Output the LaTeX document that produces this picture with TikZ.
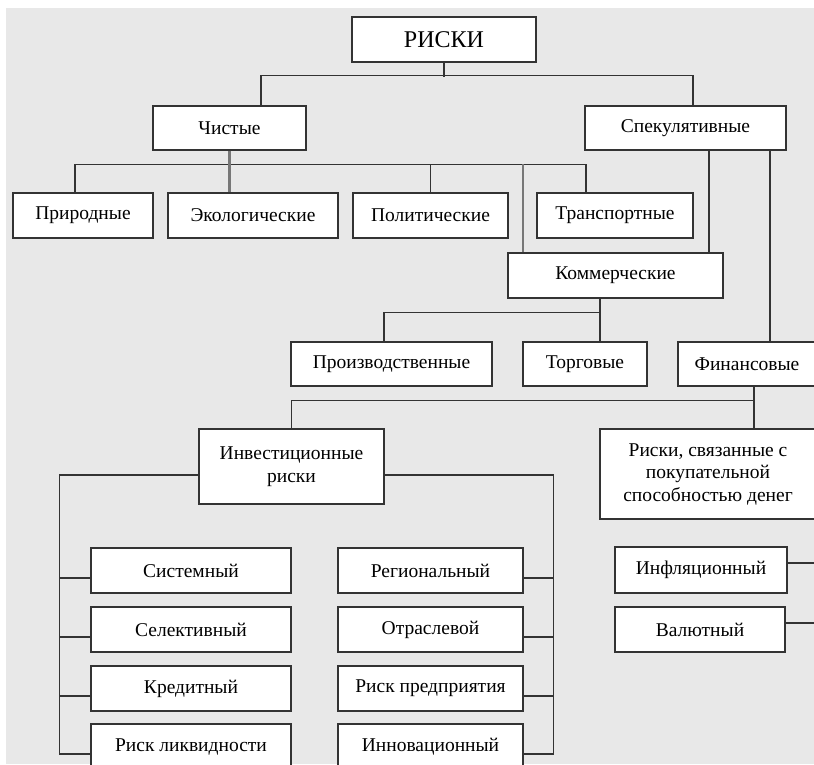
\documentclass[tikz,border=0pt]{standalone}
\usepackage{fontspec}
\setmainfont{Liberation Serif}
\usetikzlibrary{calc}
\definecolor{linec}{HTML}{333333}
\definecolor{gline}{HTML}{777777}
\definecolor{bgc}{HTML}{E8E8E8}
\begin{document}
\begin{tikzpicture}[x=1pt,y=-1pt,
  box/.style={draw=linec, line width=1.4pt, fill=white, rectangle, inner sep=0pt,
    align=center, font=\fontsize{19.5}{22.5}\selectfont, text=black},
  conn/.style={draw=linec, line width=1.4pt},
  gconn/.style={draw=gline, line width=2.2pt}]
\useasboundingbox (0,0) rectangle (814,764);
\clip (0,0) rectangle (814,764);
\fill[white] (0,0) rectangle (814,764);
\fill[bgc] (6,8) rectangle (814,764);

% nodes
\node[box, minimum width=184pt, minimum height=45pt, font=\fontsize{24}{28}\selectfont] (riski) at (444,39.5) {РИСКИ};
\node[box, minimum width=153pt, minimum height=44pt] (chist) at (229.5,128) {Чистые};
\node[box, minimum width=201pt, minimum height=44pt] (spek) at (685.5,128) {Спекулятивные};
\node[box, minimum width=140pt, minimum height=45pt] (prir) at (83,215.5) {Природные};
\node[box, minimum width=170pt, minimum height=45pt] (ekol) at (253,215.5) {Экологические};
\node[box, minimum width=155pt, minimum height=45pt] (polit) at (430.5,215.5) {Политические};
\node[box, minimum width=156pt, minimum height=45pt] (trans) at (615,215.5) {Транспортные};
\node[box, minimum width=215pt, minimum height=45pt] (komm) at (615.5,275.5) {Коммерческие};
\node[box, minimum width=201pt, minimum height=44pt] (proizv) at (391.5,364) {Производственные};
\node[box, minimum width=124pt, minimum height=44pt] (torg) at (585,364) {Торговые};
\node[box, minimum width=138pt, minimum height=44pt] (fin) at (747,364) {Финансовые};
\node[box, minimum width=185pt, minimum height=75pt] (invest) at (291.5,466.5) {Инвестиционные\\риски};
\node[box, minimum width=216pt, minimum height=90pt] (pokup) at (708,474) {Риски, связанные с\\покупательной\\способностью денег};
\node[box, minimum width=200pt, minimum height=45pt] (sys) at (191,570.5) {Системный};
\node[box, minimum width=200pt, minimum height=45pt] (sel) at (191,629.5) {Селективный};
\node[box, minimum width=200pt, minimum height=45pt] (kred) at (191,688.5) {Кредитный};
\node[box, minimum width=200pt, minimum height=45pt] (likv) at (191,746.5) {Риск ликвидности};
\node[box, minimum width=185pt, minimum height=45pt] (reg) at (430.5,570.5) {Региональный};
\node[box, minimum width=185pt, minimum height=45pt] (otr) at (430.5,629.5) {Отраслевой};
\node[box, minimum width=185pt, minimum height=45pt] (pred) at (430.5,688.5) {Риск предприятия};
\node[box, minimum width=185pt, minimum height=45pt] (innov) at (430.5,746.5) {Инновационный};
\node[box, minimum width=172pt, minimum height=46pt] (infl) at (701,570) {Инфляционный};
\node[box, minimum width=170pt, minimum height=45pt] (val) at (700,629.5) {Валютный};

% connectors
\draw[conn] (riski.south) -- ++(0,14);
\draw[conn] ([xshift=31.5pt]chist.north) -- ++(0,-30) -| ([xshift=7.5pt]spek.north);
\draw[conn] ([xshift=-8pt]prir.north) -- ++(0,-28) -| ([xshift=-29pt]trans.north);
\draw[conn] (polit.north) -- ++(0,-28);
\draw[gconn] (chist.south) -- ([xshift=-23.5pt]ekol.north);
\draw[gconn] ([xshift=-92.5pt]komm.north) -- ++(0,-88);
\draw[conn] ([xshift=23.5pt]spek.south) -- ([xshift=93.5pt]komm.north);
\draw[conn] ([xshift=84.5pt]spek.south) -- ([xshift=23pt]fin.north);
\draw[conn] ([xshift=-15.5pt]komm.south) -- ++(0,14) -| ([xshift=-7.5pt]proizv.north);
\draw[conn] ([xshift=-15.5pt]komm.south) -- ([xshift=15pt]torg.north);
\draw[conn] ([xshift=7pt]fin.south) -- ++(0,14) -| (invest.north);
\draw[conn] ([xshift=7pt]fin.south) -- ([xshift=46pt]pokup.north);
\draw[conn] ([yshift=-8.5pt]invest.west) -- ++(-139,0) |- ([yshift=-7.5pt]likv.west);
\draw[conn] ([yshift=-7.5pt]sys.west) -- ++(-31,0);
\draw[conn] ([yshift=-7.5pt]sel.west) -- ++(-31,0);
\draw[conn] ([yshift=-7.5pt]kred.west) -- ++(-31,0);
\draw[conn] ([yshift=-8.5pt]invest.east) -- ++(169,0) |- ([yshift=-7.5pt]innov.east);
\draw[conn] ([yshift=-7.5pt]reg.east) -- ++(30,0);
\draw[conn] ([yshift=-7.5pt]otr.east) -- ++(30,0);
\draw[conn] ([yshift=-7.5pt]pred.east) -- ++(30,0);
\draw[conn] ([yshift=7pt]infl.east) -- ++(30,0);
\draw[conn] ([yshift=6.5pt]val.east) -- ++(32,0);
\end{tikzpicture}
\end{document}
